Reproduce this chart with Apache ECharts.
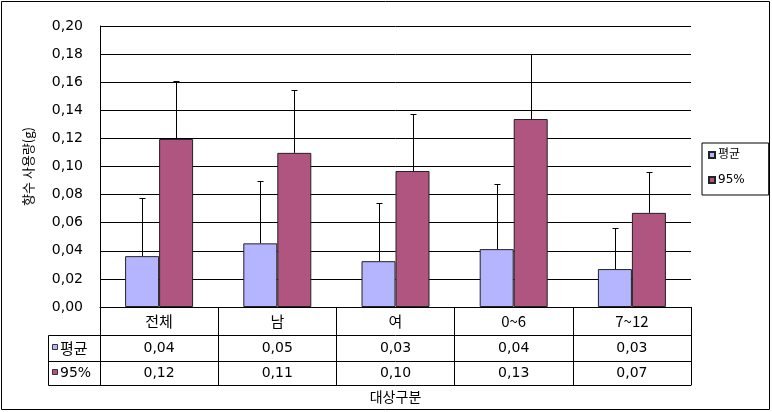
<!DOCTYPE html>
<html><head><meta charset="utf-8">
<script src="https://cdn.jsdelivr.net/npm/echarts@6/dist/echarts.min.js"></script>
<style>html,body{margin:0;padding:0;background:#fff}#c{width:772px;height:412px}</style>
</head><body><div id="c"></div>
<script>
const categories = ['전체', '남', '여', '0~6', '7~12'];
const seriesNames = ['평균', '95%'];
const meanVals = [0.0362, 0.0453, 0.0326, 0.0412, 0.0270];
const meanUpper = [0.0776, 0.0897, 0.0740, 0.0875, 0.0562];
const p95Vals = [0.1196, 0.1097, 0.0968, 0.1338, 0.0670];
const p95Upper = [0.1608, 0.1545, 0.1374, 0.1798, 0.0962];
const yTicks = [0, 0.02, 0.04, 0.06, 0.08, 0.10, 0.12, 0.14, 0.16, 0.18, 0.20];
const colors = ['#B4B4FF', '#B05480'];

const FONT = "'DejaVu Sans', 'Noto Sans CJK KR'";
const KFONT = "'Noto Sans CJK KR'";
const fmt = v => v.toFixed(2).replace('.', ',');
const BW = 34;

function errItem(offset) {
  return function (params, api) {
    const c = api.value(0);
    const p0 = api.coord([c, api.value(1)]);
    const p1 = api.coord([c, api.value(2)]);
    const x = Math.round(p0[0] + offset) + 0.5;
    const st = { stroke: '#000', lineWidth: 1 };
    return { type: 'group', children: [
      { type: 'line', shape: { x1: x, y1: p0[1], x2: x, y2: Math.round(p1[1]) + 0.5 }, style: st },
      { type: 'line', shape: { x1: x - 3, y1: Math.round(p1[1]) + 0.5, x2: x + 3, y2: Math.round(p1[1]) + 0.5 }, style: st }
    ]};
  };
}

const baseX = {
  type: 'category', position: 'bottom', gridIndex: 0,
  axisLine: { show: true, lineStyle: { color: '#000', width: 1 } },
  axisTick: { show: true, inside: false, lineStyle: { color: '#000' } },
  axisLabel: { color: '#000', fontFamily: FONT, fontSize: 14 }
};

const chart = echarts.init(document.getElementById('c'));
chart.setOption({
  animation: false,
  backgroundColor: '#fff',
  grid: { left: 100, right: 81, top: 26, bottom: 105 },
  legend: {
    data: seriesNames, orient: 'vertical', left: 702, top: 143,
    icon: 'rect', itemWidth: 6, itemHeight: 6, itemGap: 13,
    padding: [6, 24, 9, 6], borderColor: '#000', borderWidth: 1,
    textStyle: { color: '#000', fontFamily: FONT, fontSize: 12, padding: [0, 0, 0, -2] }
  },
  xAxis: [
    Object.assign({}, baseX, { data: categories, offset: 0,
      axisTick: Object.assign({}, baseX.axisTick, { length: 28 }),
      axisLabel: Object.assign({}, baseX.axisLabel, { margin: 7, fontFamily: KFONT, fontSize: 15 }) }),
    Object.assign({}, baseX, { data: meanVals.map(fmt), offset: 28,
      axisTick: Object.assign({}, baseX.axisTick, { length: 26 }),
      axisLabel: Object.assign({}, baseX.axisLabel, { margin: 6 }) }),
    Object.assign({}, baseX, { data: p95Vals.map(fmt), offset: 54,
      axisTick: Object.assign({}, baseX.axisTick, { length: 24 }),
      axisLabel: Object.assign({}, baseX.axisLabel, { margin: 5 }) }),
    Object.assign({}, baseX, { data: categories, offset: 78,
      axisTick: { show: false }, axisLabel: { show: false },
      name: '대상구분', nameLocation: 'middle', nameGap: 5,
      nameTextStyle: { color: '#000', fontFamily: KFONT, fontSize: 14 } })
  ],
  yAxis: {
    type: 'value', min: 0, max: 0.2, interval: 0.02,
    axisLine: { show: true, lineStyle: { color: '#000' } },
    axisTick: { show: false },
    splitLine: { show: true, lineStyle: { color: '#000', width: 1 } },
    axisLabel: { color: '#000', fontFamily: FONT, fontSize: 14, margin: 17,
      formatter: v => fmt(yTicks.reduce((a, b) => Math.abs(b - v) < Math.abs(a - v) ? b : a)) },
    name: '향수 사용량(g)', nameLocation: 'middle', nameGap: 65, nameRotate: 90,
    nameTextStyle: { color: '#000', fontFamily: KFONT, fontSize: 13 }
  },
  series: [
    { name: seriesNames[0], type: 'bar', data: meanVals, barWidth: BW, barGap: '0%',
      itemStyle: { color: colors[0], borderColor: '#222', borderWidth: 1 } },
    { name: seriesNames[1], type: 'bar', data: p95Vals, barWidth: BW, barGap: '0%',
      itemStyle: { color: colors[1], borderColor: '#222', borderWidth: 1 } },
    { type: 'custom', renderItem: errItem(-BW / 2), z: 5,
      data: categories.map((c, i) => [i, meanVals[i], meanUpper[i]]), encode: { x: 0, y: [1, 2] } },
    { type: 'custom', renderItem: errItem(BW / 2), z: 5,
      data: categories.map((c, i) => [i, p95Vals[i], p95Upper[i]]), encode: { x: 0, y: [1, 2] } }
  ],
  graphic: [
    { type: 'rect', shape: { x: 1.5, y: 1.5, width: 768, height: 408 }, style: { fill: 'none', stroke: '#000', lineWidth: 1 }, silent: true },
    { type: 'rect', shape: { x: 48.5, y: 335.5, width: 52, height: 50 }, style: { fill: 'none', stroke: '#000', lineWidth: 1 }, silent: true },
    { type: 'line', shape: { x1: 48.5, y1: 361.5, x2: 100.5, y2: 361.5 }, style: { stroke: '#000', lineWidth: 1 }, silent: true },
    { type: 'rect', shape: { x: 52.5, y: 344.5, width: 5, height: 5 }, style: { fill: colors[0], stroke: '#333', lineWidth: 1 } },
    { type: 'rect', shape: { x: 52.5, y: 369.5, width: 5, height: 5 }, style: { fill: colors[1], stroke: '#333', lineWidth: 1 } },
    { type: 'text', x: 60, y: 348, style: { text: seriesNames[0], fill: '#000', font: "15px 'Noto Sans CJK KR'", verticalAlign: 'middle' } },
    { type: 'text', x: 60, y: 373, style: { text: seriesNames[1], fill: '#000', font: "14px 'DejaVu Sans'", verticalAlign: 'middle' } }
  ]
});
</script></body></html>
